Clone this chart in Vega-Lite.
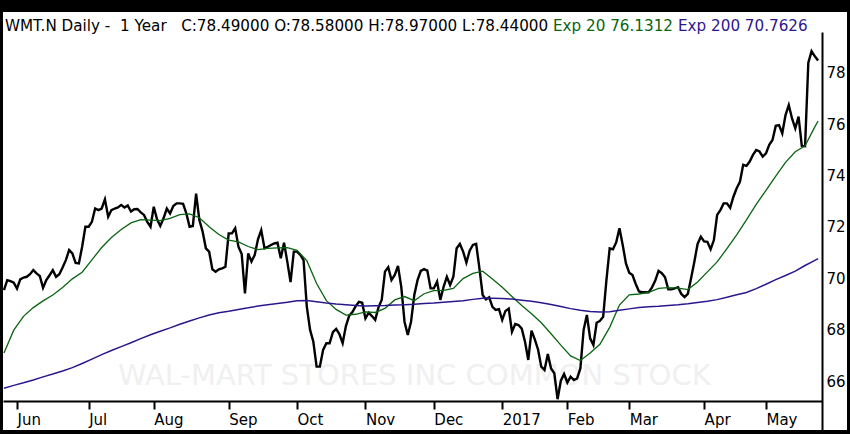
{
  "$schema": "https://vega.github.io/schema/vega-lite/v6.json",
  "description": "WMT.N daily closes over one year with 20-day and 200-day exponential averages",
  "width": 844,
  "height": 418,
  "autosize": {"type": "none"},
  "padding": {"left": 3, "top": 12, "right": 3, "bottom": 4},
  "background": "black",
  "config": {"view": {"stroke": null, "fill": "white"}, "font": "DejaVu Sans"},
  "datasets": {
    "close": [
      {"d":"2016-05-25","c":69.54},{"d":"2016-05-26","c":69.93},{"d":"2016-05-27","c":69.89},{"d":"2016-05-31","c":69.83},
      {"d":"2016-06-01","c":69.60},{"d":"2016-06-02","c":69.96},{"d":"2016-06-03","c":70.03},{"d":"2016-06-06","c":70.06},
      {"d":"2016-06-07","c":70.16},{"d":"2016-06-08","c":70.32},{"d":"2016-06-09","c":70.19},{"d":"2016-06-10","c":70.09},
      {"d":"2016-06-13","c":69.63},{"d":"2016-06-14","c":69.93},{"d":"2016-06-15","c":70.12},{"d":"2016-06-16","c":70.32},
      {"d":"2016-06-17","c":70.06},{"d":"2016-06-20","c":70.16},{"d":"2016-06-21","c":70.42},{"d":"2016-06-22","c":70.71},
      {"d":"2016-06-23","c":71.10},{"d":"2016-06-24","c":70.97},{"d":"2016-06-27","c":70.60},{"d":"2016-06-28","c":70.58},
      {"d":"2016-06-29","c":71.23},{"d":"2016-06-30","c":72.01},{"d":"2016-07-01","c":72.01},{"d":"2016-07-05","c":72.20},
      {"d":"2016-07-06","c":72.72},{"d":"2016-07-07","c":72.66},{"d":"2016-07-08","c":72.72},{"d":"2016-07-11","c":73.08},
      {"d":"2016-07-12","c":72.40},{"d":"2016-07-13","c":72.66},{"d":"2016-07-14","c":72.72},{"d":"2016-07-15","c":72.76},
      {"d":"2016-07-18","c":72.86},{"d":"2016-07-19","c":72.76},{"d":"2016-07-20","c":72.84},{"d":"2016-07-21","c":72.60},
      {"d":"2016-07-22","c":72.69},{"d":"2016-07-25","c":72.70},{"d":"2016-07-26","c":72.57},{"d":"2016-07-27","c":72.47},
      {"d":"2016-07-28","c":72.20},{"d":"2016-07-29","c":72.01},{"d":"2016-08-01","c":72.79},{"d":"2016-08-02","c":72.30},
      {"d":"2016-08-03","c":72.04},{"d":"2016-08-04","c":72.34},{"d":"2016-08-05","c":72.72},{"d":"2016-08-08","c":72.53},
      {"d":"2016-08-09","c":72.82},{"d":"2016-08-10","c":72.92},{"d":"2016-08-11","c":72.92},{"d":"2016-08-12","c":72.90},
      {"d":"2016-08-15","c":72.53},{"d":"2016-08-16","c":72.01},{"d":"2016-08-17","c":72.04},{"d":"2016-08-18","c":73.30},
      {"d":"2016-08-19","c":72.27},{"d":"2016-08-22","c":71.82},{"d":"2016-08-23","c":71.17},{"d":"2016-08-24","c":71.04},
      {"d":"2016-08-25","c":70.35},{"d":"2016-08-26","c":70.26},{"d":"2016-08-29","c":70.35},{"d":"2016-08-30","c":70.39},
      {"d":"2016-08-31","c":70.45},{"d":"2016-09-01","c":71.75},{"d":"2016-09-02","c":71.75},{"d":"2016-09-06","c":71.95},
      {"d":"2016-09-07","c":71.23},{"d":"2016-09-08","c":70.95},{"d":"2016-09-09","c":69.41},{"d":"2016-09-12","c":70.97},
      {"d":"2016-09-13","c":70.65},{"d":"2016-09-14","c":70.91},{"d":"2016-09-15","c":71.52},{"d":"2016-09-16","c":71.88},
      {"d":"2016-09-19","c":71.17},{"d":"2016-09-20","c":71.23},{"d":"2016-09-21","c":71.30},{"d":"2016-09-22","c":71.36},
      {"d":"2016-09-23","c":71.39},{"d":"2016-09-26","c":70.78},{"d":"2016-09-27","c":71.39},{"d":"2016-09-28","c":70.65},
      {"d":"2016-09-29","c":69.85},{"d":"2016-09-30","c":71.04},{"d":"2016-10-03","c":71.04},{"d":"2016-10-04","c":70.91},
      {"d":"2016-10-05","c":70.71},{"d":"2016-10-06","c":68.89},{"d":"2016-10-07","c":67.99},{"d":"2016-10-10","c":67.53},
      {"d":"2016-10-11","c":66.56},{"d":"2016-10-12","c":66.56},{"d":"2016-10-13","c":67.21},{"d":"2016-10-14","c":67.47},
      {"d":"2016-10-17","c":67.47},{"d":"2016-10-18","c":67.90},{"d":"2016-10-19","c":68.03},{"d":"2016-10-20","c":67.83},
      {"d":"2016-10-21","c":67.47},{"d":"2016-10-24","c":68.14},{"d":"2016-10-25","c":68.54},{"d":"2016-10-26","c":68.69},
      {"d":"2016-10-27","c":68.92},{"d":"2016-10-28","c":69.08},{"d":"2016-10-31","c":69.05},{"d":"2016-11-01","c":68.44},
      {"d":"2016-11-02","c":68.66},{"d":"2016-11-03","c":68.53},{"d":"2016-11-04","c":68.38},{"d":"2016-11-07","c":68.87},
      {"d":"2016-11-08","c":69.16},{"d":"2016-11-09","c":70.26},{"d":"2016-11-10","c":70.43},{"d":"2016-11-11","c":69.93},
      {"d":"2016-11-14","c":70.13},{"d":"2016-11-15","c":70.48},{"d":"2016-11-16","c":69.67},{"d":"2016-11-17","c":68.31},
      {"d":"2016-11-18","c":67.79},{"d":"2016-11-21","c":68.31},{"d":"2016-11-22","c":69.35},{"d":"2016-11-23","c":69.93},
      {"d":"2016-11-25","c":70.29},{"d":"2016-11-28","c":70.36},{"d":"2016-11-29","c":70.30},{"d":"2016-11-30","c":69.61},
      {"d":"2016-12-01","c":69.61},{"d":"2016-12-02","c":69.87},{"d":"2016-12-05","c":69.16},{"d":"2016-12-06","c":69.67},
      {"d":"2016-12-07","c":70.06},{"d":"2016-12-08","c":69.74},{"d":"2016-12-09","c":70.06},{"d":"2016-12-12","c":71.17},
      {"d":"2016-12-13","c":71.34},{"d":"2016-12-14","c":71.04},{"d":"2016-12-15","c":70.61},{"d":"2016-12-16","c":71.08},
      {"d":"2016-12-19","c":71.30},{"d":"2016-12-20","c":71.34},{"d":"2016-12-21","c":70.39},{"d":"2016-12-22","c":69.35},
      {"d":"2016-12-23","c":69.18},{"d":"2016-12-27","c":69.26},{"d":"2016-12-28","c":68.89},{"d":"2016-12-29","c":68.77},
      {"d":"2016-12-30","c":68.80},{"d":"2017-01-03","c":68.38},{"d":"2017-01-04","c":68.73},{"d":"2017-01-05","c":68.82},
      {"d":"2017-01-06","c":67.92},{"d":"2017-01-09","c":68.22},{"d":"2017-01-10","c":68.18},{"d":"2017-01-11","c":68.04},
      {"d":"2017-01-12","c":67.53},{"d":"2017-01-13","c":66.82},{"d":"2017-01-17","c":67.96},{"d":"2017-01-18","c":67.62},
      {"d":"2017-01-19","c":67.23},{"d":"2017-01-20","c":66.56},{"d":"2017-01-23","c":66.43},{"d":"2017-01-24","c":67.05},
      {"d":"2017-01-25","c":66.49},{"d":"2017-01-26","c":66.30},{"d":"2017-01-27","c":65.29},{"d":"2017-01-30","c":66.01},
      {"d":"2017-01-31","c":66.27},{"d":"2017-02-01","c":65.94},{"d":"2017-02-02","c":66.17},{"d":"2017-02-03","c":66.04},
      {"d":"2017-02-06","c":66.10},{"d":"2017-02-07","c":66.49},{"d":"2017-02-08","c":67.99},{"d":"2017-02-09","c":68.57},
      {"d":"2017-02-10","c":67.66},{"d":"2017-02-13","c":67.40},{"d":"2017-02-14","c":68.27},{"d":"2017-02-15","c":68.34},
      {"d":"2017-02-16","c":68.50},{"d":"2017-02-17","c":69.93},{"d":"2017-02-21","c":71.17},{"d":"2017-02-22","c":71.13},
      {"d":"2017-02-23","c":71.40},{"d":"2017-02-24","c":71.95},{"d":"2017-02-27","c":71.30},{"d":"2017-02-28","c":70.58},
      {"d":"2017-03-01","c":70.22},{"d":"2017-03-02","c":70.13},{"d":"2017-03-03","c":69.78},{"d":"2017-03-06","c":69.49},
      {"d":"2017-03-07","c":69.46},{"d":"2017-03-08","c":69.46},{"d":"2017-03-09","c":69.46},{"d":"2017-03-10","c":69.65},
      {"d":"2017-03-13","c":69.91},{"d":"2017-03-14","c":70.29},{"d":"2017-03-15","c":70.20},{"d":"2017-03-16","c":70.04},
      {"d":"2017-03-17","c":69.57},{"d":"2017-03-20","c":69.57},{"d":"2017-03-21","c":69.61},{"d":"2017-03-22","c":69.65},
      {"d":"2017-03-23","c":69.39},{"d":"2017-03-24","c":69.27},{"d":"2017-03-27","c":69.39},{"d":"2017-03-28","c":70.00},
      {"d":"2017-03-29","c":70.65},{"d":"2017-03-30","c":71.34},{"d":"2017-03-31","c":71.62},{"d":"2017-04-03","c":71.44},
      {"d":"2017-04-04","c":71.42},{"d":"2017-04-05","c":71.13},{"d":"2017-04-06","c":71.49},{"d":"2017-04-07","c":72.47},
      {"d":"2017-04-10","c":72.66},{"d":"2017-04-11","c":72.92},{"d":"2017-04-12","c":72.92},{"d":"2017-04-13","c":72.75},
      {"d":"2017-04-17","c":73.18},{"d":"2017-04-18","c":73.51},{"d":"2017-04-19","c":73.76},{"d":"2017-04-20","c":74.42},
      {"d":"2017-04-21","c":74.38},{"d":"2017-04-24","c":74.55},{"d":"2017-04-25","c":74.81},{"d":"2017-04-26","c":75.00},
      {"d":"2017-04-27","c":74.94},{"d":"2017-04-28","c":74.74},{"d":"2017-05-01","c":74.87},{"d":"2017-05-02","c":75.20},
      {"d":"2017-05-03","c":75.39},{"d":"2017-05-04","c":75.94},{"d":"2017-05-05","c":75.97},{"d":"2017-05-08","c":75.65},
      {"d":"2017-05-09","c":76.36},{"d":"2017-05-10","c":76.75},{"d":"2017-05-11","c":76.23},{"d":"2017-05-12","c":75.84},
      {"d":"2017-05-15","c":76.30},{"d":"2017-05-16","c":75.16},{"d":"2017-05-17","c":75.15},{"d":"2017-05-18","c":78.40},
      {"d":"2017-05-19","c":78.85},{"d":"2017-05-22","c":78.65},{"d":"2017-05-23","c":78.49}
    ],
    "ema": [
      {"d":"2016-05-25","e20":67.09,"e200":65.72},{"d":"2016-05-31","e20":67.98,"e200":65.83},
      {"d":"2016-06-03","e20":68.52,"e200":65.93},{"d":"2016-06-08","e20":68.86,"e200":66.04},
      {"d":"2016-06-13","e20":69.12,"e200":66.16},{"d":"2016-06-16","e20":69.35,"e200":66.27},
      {"d":"2016-06-21","e20":69.64,"e200":66.39},{"d":"2016-06-24","e20":69.98,"e200":66.52},
      {"d":"2016-06-29","e20":70.24,"e200":66.68},{"d":"2016-07-05","e20":70.72,"e200":66.85},
      {"d":"2016-07-08","e20":71.20,"e200":67.03},{"d":"2016-07-13","e20":71.59,"e200":67.19},
      {"d":"2016-07-18","e20":71.90,"e200":67.34},{"d":"2016-07-21","e20":72.16,"e200":67.49},
      {"d":"2016-07-26","e20":72.29,"e200":67.65},{"d":"2016-07-29","e20":72.27,"e200":67.80},
      {"d":"2016-08-03","e20":72.25,"e200":67.94},{"d":"2016-08-08","e20":72.34,"e200":68.07},
      {"d":"2016-08-11","e20":72.48,"e200":68.21},{"d":"2016-08-16","e20":72.51,"e200":68.34},
      {"d":"2016-08-19","e20":72.36,"e200":68.46},{"d":"2016-08-24","e20":72.01,"e200":68.57},
      {"d":"2016-08-29","e20":71.71,"e200":68.66},{"d":"2016-09-01","e20":71.49,"e200":68.72},
      {"d":"2016-09-07","e20":71.42,"e200":68.79},{"d":"2016-09-12","e20":71.24,"e200":68.85},
      {"d":"2016-09-15","e20":71.12,"e200":68.92},{"d":"2016-09-20","e20":71.17,"e200":68.97},
      {"d":"2016-09-23","e20":71.19,"e200":69.02},{"d":"2016-09-28","e20":71.20,"e200":69.07},
      {"d":"2016-10-03","e20":71.09,"e200":69.13},{"d":"2016-10-06","e20":70.69,"e200":69.14},
      {"d":"2016-10-11","e20":69.80,"e200":69.09},{"d":"2016-10-14","e20":69.13,"e200":69.04},
      {"d":"2016-10-19","e20":68.79,"e200":69.00},{"d":"2016-10-24","e20":68.57,"e200":68.97},
      {"d":"2016-10-27","e20":68.60,"e200":68.94},{"d":"2016-11-01","e20":68.69,"e200":68.92},
      {"d":"2016-11-04","e20":68.67,"e200":68.93},{"d":"2016-11-09","e20":68.83,"e200":68.94},
      {"d":"2016-11-14","e20":69.16,"e200":68.96},{"d":"2016-11-17","e20":69.29,"e200":68.97},
      {"d":"2016-11-22","e20":69.13,"e200":68.99},{"d":"2016-11-28","e20":69.40,"e200":69.02},
      {"d":"2016-12-01","e20":69.52,"e200":69.04},{"d":"2016-12-06","e20":69.53,"e200":69.07},
      {"d":"2016-12-09","e20":69.61,"e200":69.10},{"d":"2016-12-14","e20":69.99,"e200":69.13},
      {"d":"2016-12-19","e20":70.19,"e200":69.18},{"d":"2016-12-22","e20":70.28,"e200":69.22},
      {"d":"2016-12-28","e20":69.97,"e200":69.22},{"d":"2017-01-03","e20":69.65,"e200":69.21},
      {"d":"2017-01-06","e20":69.29,"e200":69.19},{"d":"2017-01-11","e20":68.94,"e200":69.15},
      {"d":"2017-01-17","e20":68.62,"e200":69.11},{"d":"2017-01-20","e20":68.27,"e200":69.05},
      {"d":"2017-01-25","e20":67.84,"e200":68.98},{"d":"2017-01-30","e20":67.40,"e200":68.90},
      {"d":"2017-02-02","e20":66.98,"e200":68.82},{"d":"2017-02-07","e20":66.80,"e200":68.76},
      {"d":"2017-02-10","e20":67.09,"e200":68.71},{"d":"2017-02-15","e20":67.43,"e200":68.69},
      {"d":"2017-02-21","e20":68.09,"e200":68.70},{"d":"2017-02-24","e20":68.96,"e200":68.76},
      {"d":"2017-03-01","e20":69.36,"e200":68.81},{"d":"2017-03-06","e20":69.39,"e200":68.86},
      {"d":"2017-03-09","e20":69.45,"e200":68.89},{"d":"2017-03-14","e20":69.61,"e200":68.91},
      {"d":"2017-03-17","e20":69.64,"e200":68.94},{"d":"2017-03-22","e20":69.62,"e200":68.97},
      {"d":"2017-03-27","e20":69.56,"e200":69.01},{"d":"2017-03-30","e20":69.86,"e200":69.06},
      {"d":"2017-04-04","e20":70.25,"e200":69.11},{"d":"2017-04-07","e20":70.64,"e200":69.17},
      {"d":"2017-04-12","e20":71.16,"e200":69.26},{"d":"2017-04-18","e20":71.69,"e200":69.36},
      {"d":"2017-04-21","e20":72.28,"e200":69.45},{"d":"2017-04-26","e20":72.88,"e200":69.60},
      {"d":"2017-05-01","e20":73.43,"e200":69.77},{"d":"2017-05-04","e20":73.98,"e200":69.95},
      {"d":"2017-05-09","e20":74.52,"e200":70.11},{"d":"2017-05-12","e20":74.93,"e200":70.28},
      {"d":"2017-05-17","e20":75.16,"e200":70.50},{"d":"2017-05-22","e20":75.90,"e200":70.70},
      {"d":"2017-05-23","e20":76.13,"e200":70.77}
    ]
  },
  "layer": [
    {
      "data": {"values": [{}]},
      "mark": {"type": "text", "text": "WAL-MART STORES INC COMMON STOCK", "font": "DejaVu Sans", "fontSize": 29, "color": "#f0f0f0", "align": "center", "baseline": "middle"},
      "encoding": {
        "x": {"datum": "2016-11-22", "type": "ordinal"},
        "y": {"datum": 66.19, "type": "quantitative"}
      }
    },
    {
      "data": {"name": "close"},
      "mark": {"type": "line", "strokeWidth": 2.4},
      "encoding": {
        "x": {
          "field": "d", "type": "ordinal", "title": null,
          "scale": {"type": "point", "range": [0, 819], "padding": 0.75, "align": 0.2},
          "axis": {
            "orient": "bottom", "offset": -29,
            "values": ["2016-06-01","2016-07-01","2016-08-01","2016-09-01","2016-10-03","2016-11-01","2016-12-01","2017-01-03","2017-02-01","2017-03-01","2017-04-03","2017-05-01"],
            "labelExpr": "slice(datum.value,5,7) == '01' ? slice(datum.value,0,4) : ['Jan','Feb','Mar','Apr','May','Jun','Jul','Aug','Sep','Oct','Nov','Dec'][toNumber(slice(datum.value,5,7)) - 1]",
            "domainColor": "black", "domainWidth": 2,
            "tickColor": "black", "tickWidth": 2, "tickSize": 8,
            "labelFont": "DejaVu Sans", "labelFontSize": 15, "labelColor": "black",
            "labelAngle": 0, "labelAlign": "left", "labelBaseline": "top", "labelPadding": 3,
            "labelFlush": false, "labelOverlap": false, "grid": false
          }
        },
        "y": {
          "field": "c", "type": "quantitative", "title": null,
          "scale": {"domain": [64.091, 79.597], "range": [418, 20], "nice": false, "zero": false},
          "axis": {
            "orient": "right", "offset": -25,
            "values": [66, 68, 70, 72, 74, 76, 78],
            "ticks": false, "domainColor": "black", "domainWidth": 2,
            "labelFont": "DejaVu Sans", "labelFontSize": 15, "labelColor": "black",
            "labelPadding": 4, "labelBaseline": "middle",
            "labelFlush": false, "labelOverlap": false, "grid": false
          }
        },
        "color": {
          "datum": "WMT.N Daily -\u00a0 1 Year\u00a0\u00a0 C:78.49000 O:78.58000 H:78.97000 L:78.44000",
          "scale": {
            "domain": ["WMT.N Daily -\u00a0 1 Year\u00a0\u00a0 C:78.49000 O:78.58000 H:78.97000 L:78.44000", "Exp 20 76.1312", "Exp 200 70.7626"],
            "range": ["#000000", "#0a6410", "#2c168c"]
          },
          "legend": {
            "orient": "none", "legendX": 2, "legendY": 6, "direction": "horizontal",
            "title": null, "symbolSize": 0, "symbolStrokeWidth": 0, "symbolOpacity": 0,
            "labelFont": "DejaVu Sans", "labelFontSize": 15.2, "labelLimit": 1000,
            "labelOffset": -15.2, "columnPadding": 4, "padding": 0,
            "encode": {"labels": {"update": {"fill": {"scale": "color", "field": "value"}}}}
          }
        }
      }
    },
    {
      "data": {"name": "ema"},
      "mark": {"type": "line", "strokeWidth": 1.3},
      "encoding": {
        "x": {"field": "d", "type": "ordinal", "title": null},
        "y": {"field": "e20", "type": "quantitative", "title": null},
        "color": {"datum": "Exp 20 76.1312"}
      }
    },
    {
      "data": {"name": "ema"},
      "mark": {"type": "line", "strokeWidth": 1.5},
      "encoding": {
        "x": {"field": "d", "type": "ordinal", "title": null},
        "y": {"field": "e200", "type": "quantitative", "title": null},
        "color": {"datum": "Exp 200 70.7626"}
      }
    }
  ]
}
